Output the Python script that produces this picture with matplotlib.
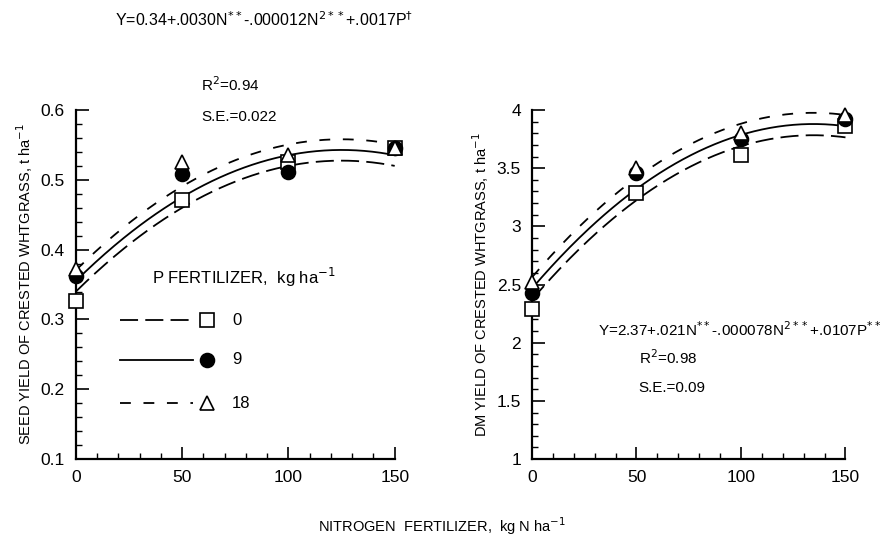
import matplotlib.pyplot as plt
import numpy as np
from matplotlib.ticker import MultipleLocator

plt.rcParams['font.family'] = ['Liberation Sans', 'DejaVu Sans']

n_rate = [0, 50, 100, 150]
p_rate = [0, 9, 18]

# seed yield, t/ha
seed_p0 = [0.327, 0.471, 0.525, 0.545]
seed_p9 = [0.362, 0.508, 0.511, 0.545]
seed_p18 = [0.372, 0.525, 0.535, 0.545]

# dry matter yield, t/ha
dm_p0 = [2.29, 3.29, 3.61, 3.86]
dm_p9 = [2.43, 3.46, 3.75, 3.92]
dm_p18 = [2.52, 3.50, 3.80, 3.96]

# regression coefficients: intercept, N, N^2, P
seed_coef = [0.34, 0.0030, -0.000012, 0.0017]
dm_coef = [2.37, 0.021, -0.000078, 0.0107]

line_styles = [(0, (10, 4)), '-', (0, (6, 7))]
markers = ['s', 'o', '^']
faces = ['white', 'black', 'white']


def fitted(coef, n, p):
    return coef[0] + coef[1] * n + coef[2] * n ** 2 + coef[3] * p


def style_axis(ax, ylo, yhi, ymaj, ymin):
    ax.set_xlim(0, 150)
    ax.set_ylim(ylo, yhi)
    ax.spines['top'].set_visible(False)
    ax.spines['right'].set_visible(False)
    ax.spines['left'].set_linewidth(1.6)
    ax.spines['bottom'].set_linewidth(1.6)
    ax.xaxis.set_major_locator(MultipleLocator(50))
    ax.xaxis.set_minor_locator(MultipleLocator(10))
    ax.yaxis.set_major_locator(MultipleLocator(ymaj))
    ax.yaxis.set_minor_locator(MultipleLocator(ymin))
    ax.tick_params(which='major', direction='in', length=9, width=1.2, labelsize=12.5, pad=8)
    ax.tick_params(which='minor', direction='in', length=4, width=1)


def draw_panel(ax, coef, series):
    n_fine = np.linspace(0, 150, 200)
    for i, p in enumerate(p_rate):
        ax.plot(n_fine, fitted(coef, n_fine, p), color='black', lw=1.3,
                linestyle=line_styles[i], clip_on=False)
    for i, vals in enumerate(series):
        ax.plot(n_rate, vals, linestyle='none', marker=markers[i], ms=10,
                mfc=faces[i], mec='black', mew=1.2, clip_on=False, zorder=5)


fig = plt.figure(figsize=(8.83, 5.42), dpi=100)
ax1 = fig.add_axes([0.086, 0.153, 0.361, 0.644])
ax2 = fig.add_axes([0.6025, 0.153, 0.355, 0.644])

style_axis(ax1, 0.1, 0.6, 0.1, 0.02)
style_axis(ax2, 1, 4, 0.5, 0.1)
ax1.set_yticks([0.1, 0.2, 0.3, 0.4, 0.5, 0.6], ['0.1', '0.2', '0.3', '0.4', '0.5', '0.6'])
ax2.set_yticks([1, 1.5, 2, 2.5, 3, 3.5, 4], ['1', '1.5', '2', '2.5', '3', '3.5', '4'])

draw_panel(ax1, seed_coef, [seed_p0, seed_p9, seed_p18])
draw_panel(ax2, dm_coef, [dm_p0, dm_p9, dm_p18])

ax1.set_ylabel('SEED YIELD OF CRESTED WHTGRASS, t ha$^{-1}$', fontsize=10.5, labelpad=4)
ax2.set_ylabel('DM YIELD OF CRESTED WHTGRASS, t ha$^{-1}$', fontsize=10.5, labelpad=4)
fig.text(0.5, 0.018, 'NITROGEN  FERTILIZER,  kg N ha$^{-1}$', ha='center', fontsize=10.5)

# regression text
fig.text(0.13, 0.952, r'Y=0.34+.0030N$^{**}$-.000012N$^{2**}$+.0017P$^{\dagger}$', fontsize=11.5)
fig.text(0.228, 0.832, 'R$^2$=0.94', fontsize=11)
fig.text(0.228, 0.777, 'S.E.=0.022', fontsize=11)
ax2.text(0.21, 0.37, r'Y=2.37+.021N$^{**}$-.000078N$^{2**}$+.0107P$^{**}$', transform=ax2.transAxes,
         fontsize=11, va='center')
ax2.text(0.34, 0.29, 'R$^2$=0.98', transform=ax2.transAxes, fontsize=11, va='center')
ax2.text(0.34, 0.205, 'S.E.=0.09', transform=ax2.transAxes, fontsize=11, va='center')

# legend drawn by hand inside left panel
ax1.text(0.24, 0.52, 'P FERTILIZER,  kg ha$^{-1}$', transform=ax1.transAxes, fontsize=12, va='center')
leg_y = [0.398, 0.284, 0.160]
for i, p in enumerate(p_rate):
    ax1.plot([0.138, 0.367], [leg_y[i], leg_y[i]], transform=ax1.transAxes, color='black',
             lw=1.3, linestyle=line_styles[i])
    ax1.plot([0.41], [leg_y[i]], transform=ax1.transAxes, marker=markers[i], ms=10,
             mfc=faces[i], mec='black', mew=1.2)
    ax1.text(0.49, leg_y[i], str(p), transform=ax1.transAxes, va='center', fontsize=12)

fig.savefig('out.png', dpi=100)
